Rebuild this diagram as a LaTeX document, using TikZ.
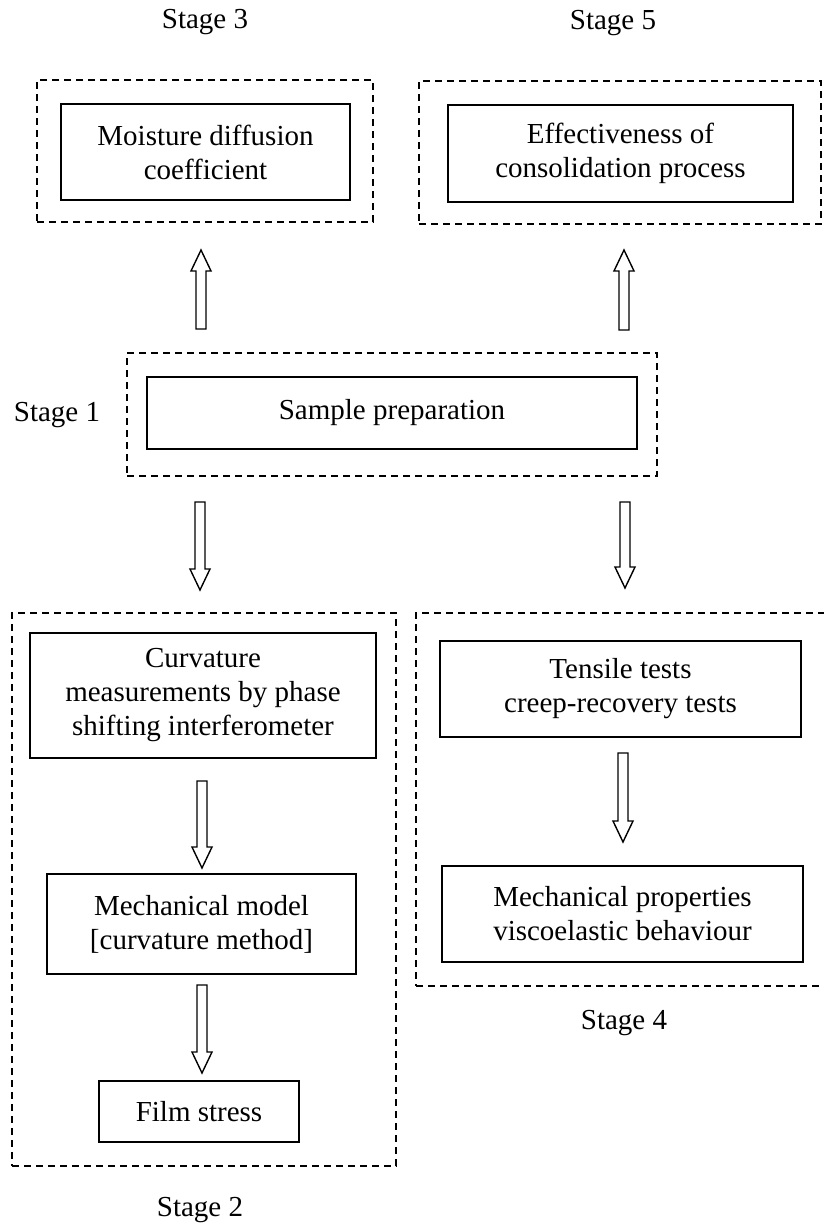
\documentclass[tikz,border=0pt]{standalone}
\usepackage{fontspec}
\setmainfont{Liberation Serif}
\usetikzlibrary{calc}
\tikzset{
  txt/.style={font=\fontsize{29}{34}\selectfont, inner sep=0pt, align=center},
  box/.style={txt, draw, line width=1.6pt},
  stagebox/.style={draw, line width=1.3pt, dash pattern=on 7pt off 5pt, inner sep=0pt},
  hollow/.style={draw, line width=1.4pt, fill=white, line join=miter}
}
\newcommand\hollowarrow[2]{%
  \draw[hollow] let \p1=(#1), \p2=(#2), \n1={21*sign(\y2-\y1)} in
    ({\x1-5pt},\y1) -- ({\x1-5pt},{\y2-\n1*1pt}) -- ({\x1-10pt},{\y2-\n1*1pt})
    -- (\x1,\y2) -- ({\x1+10pt},{\y2-\n1*1pt}) -- ({\x1+5pt},{\y2-\n1*1pt})
    -- ({\x1+5pt},\y1) -- cycle;}
\begin{document}
\begin{tikzpicture}[x=1pt,y=-1pt]
\clip (0,0) rectangle (824,1227);
\useasboundingbox (0,0) rectangle (824,1227);

% Stage labels
\node[txt] (l3) at (205,22) {Stage 3};
\node[txt] (l5) at (613,23) {Stage 5};
\node[txt] (l1) at (57,415) {Stage 1};
\node[txt] (l4) at (624,1023) {Stage 4};
\node[txt] (l2) at (200,1210) {Stage 2};

% Stage 3
\node[stagebox, minimum width=336pt, minimum height=142pt] (s3) at (205,151) {};
\node[box, minimum width=289pt, minimum height=96pt] (moist) at (205.5,152) {Moisture diffusion\\coefficient};

% Stage 5
\node[stagebox, minimum width=402pt, minimum height=143pt] (s5) at (620,152.5) {};
\node[box, minimum width=345pt, minimum height=97pt] (eff) at (620.5,153.5) {Effectiveness of\\consolidation process};

% Stage 1
\node[stagebox, minimum width=530pt, minimum height=123pt] (s1) at (392,414.5) {};
\node[box, minimum width=490pt, minimum height=72pt] (sample) at (392,413) {Sample preparation};

% Stage 2
\node[stagebox, minimum width=384pt, minimum height=553pt] (s2) at (204,889.5) {};
\node[box, minimum width=346pt, minimum height=125pt] (curv) at (203,695.5) {Curvature\\measurements by phase\\shifting interferometer};
\node[box, minimum width=309pt, minimum height=100pt] (mech) at (201.5,924) {Mechanical model\\{[curvature method]}};
\node[box, minimum width=200pt, minimum height=61pt] (film) at (199,1111.5) {Film stress};

% Stage 4
\node[stagebox, minimum width=420pt, minimum height=373pt] (s4) at (626,799.5) {};
\node[box, minimum width=361pt, minimum height=96pt] (tens) at (620.5,689) {Tensile tests\\creep-recovery tests};
\node[box, minimum width=361pt, minimum height=96pt] (mprop) at (622.5,914) {Mechanical properties\\viscoelastic behaviour};

% arrow end points
\coordinate (u1s) at (201,329);
\coordinate (u1e) at (201,250);
\coordinate (u2s) at (624,330);
\coordinate (u2e) at (624,250);
\coordinate (d1s) at (200,502);
\coordinate (d1e) at (200,590);
\coordinate (d2s) at (625,502);
\coordinate (d2e) at (625,588);
\coordinate (c1s) at (202,781);
\coordinate (c1e) at (202,868);
\coordinate (c2s) at (202,985);
\coordinate (c2e) at (202,1073);
\coordinate (t1s) at (623,753);
\coordinate (t1e) at (623,842);

\hollowarrow{u1s}{u1e}
\hollowarrow{u2s}{u2e}
\hollowarrow{d1s}{d1e}
\hollowarrow{d2s}{d2e}
\hollowarrow{c1s}{c1e}
\hollowarrow{c2s}{c2e}
\hollowarrow{t1s}{t1e}
\end{tikzpicture}
\end{document}
